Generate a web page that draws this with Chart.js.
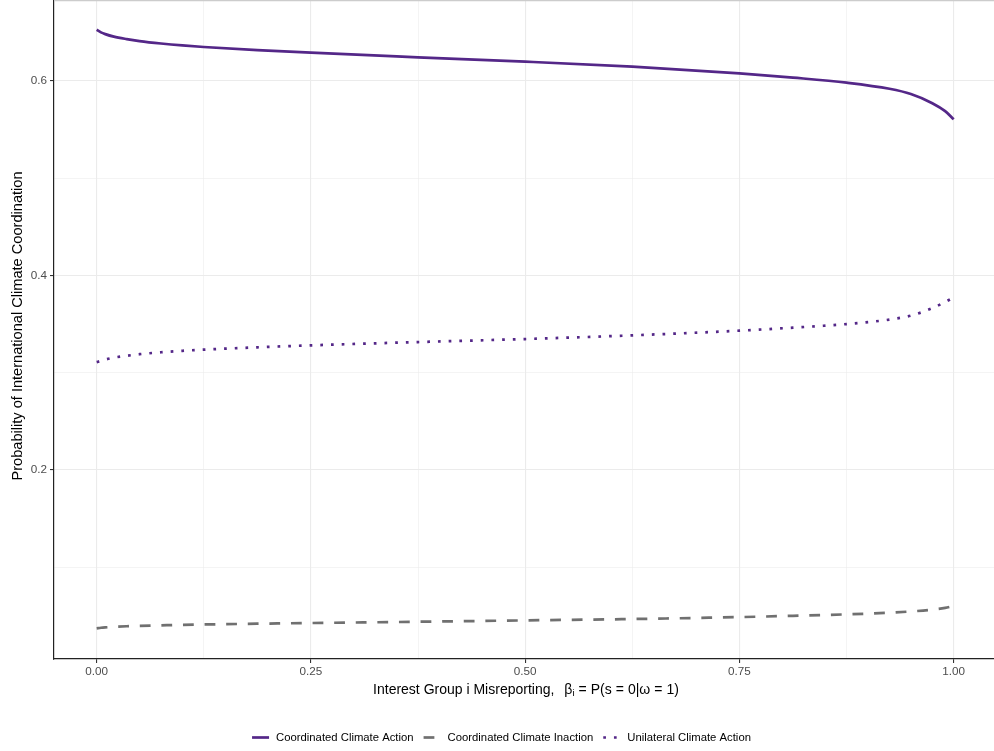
<!DOCTYPE html>
<html>
<head>
<meta charset="utf-8">
<script src="https://cdn.jsdelivr.net/npm/chart.js@4/dist/chart.umd.min.js"></script>
<style>
  html, body { margin: 0; padding: 0; background: #ffffff; overflow: hidden; }
  #wrap { width: 994px; height: 751px; position: relative; }
</style>
</head>
<body>
<div id="wrap"><canvas id="chart" width="994" height="751"></canvas></div>
<script>
// Misreporting probability (x) and the three outcome probabilities
const misreporting = [0, 0.005, 0.01, 0.02, 0.035, 0.05, 0.075, 0.1, 0.125, 0.1875, 0.25, 0.375, 0.5, 0.625, 0.75, 0.8125, 0.875, 0.925, 0.95, 0.975, 0.99, 1.0];
const coordinatedAction   = [0.6527, 0.6500, 0.6482, 0.6456, 0.6431, 0.6411, 0.6386, 0.6366, 0.6350, 0.6318, 0.6291, 0.6244, 0.6199, 0.6147, 0.6079, 0.6035, 0.5983, 0.5920, 0.5866, 0.5772, 0.5690, 0.5606];
const coordinatedInaction = [0.0372, 0.0378, 0.0382, 0.0388, 0.0394, 0.0398, 0.0403, 0.0408, 0.0412, 0.0420, 0.0427, 0.0440, 0.0454, 0.0468, 0.0488, 0.0501, 0.0516, 0.0533, 0.0546, 0.0564, 0.0582, 0.0602];
const unilateralAction    = [0.3110, 0.3122, 0.3136, 0.3156, 0.3175, 0.3191, 0.3211, 0.3226, 0.3238, 0.3262, 0.3282, 0.3316, 0.3347, 0.3385, 0.3433, 0.3464, 0.3501, 0.3547, 0.3588, 0.3664, 0.3728, 0.3775];

const seriesNames = ['Coordinated Climate Action', 'Coordinated Climate Inaction', 'Unilateral Climate Action'];

const xMajorTicks = [0, 0.25, 0.5, 0.75, 1];
const xTickLabels = ['0.00', '0.25', '0.50', '0.75', '1.00'];
const xMinorTicks = [0.125, 0.375, 0.625, 0.875];
const yMajorTicks = [0.2, 0.4, 0.6];
const yTickLabels = ['0.2', '0.4', '0.6'];
const yMinorTicks = [0.1, 0.3, 0.5];

const FONT = '"Liberation Sans", Arial, Helvetica, sans-serif';
const PURPLE = '#542788';
const GREY = '#707070';
const LW = 2.7;

const seriesStyles = [
  { color: PURPLE, dash: [] },
  { color: GREY, dash: [10.8, 10.8] },
  { color: PURPLE, dash: [2.7, 8] }
];

function points(ys) {
  return misreporting.map((x, i) => ({ x: x, y: ys[i] }));
}

const seriesValues = [coordinatedAction, coordinatedInaction, unilateralAction];
const datasets = seriesValues.map((vals, i) => ({
  label: seriesNames[i],
  data: points(vals),
  borderColor: seriesStyles[i].color,
  borderDash: seriesStyles[i].dash,
  borderWidth: LW,
  borderCapStyle: 'butt',
  pointRadius: 0,
  fill: false,
  cubicInterpolationMode: 'monotone'
}));

function mergedTicks(major, minor) {
  return major.concat(minor).sort((a, b) => a - b).map(v => ({ value: v }));
}

// Axis titles, the top panel edge and the bottom legend
const decorations = {
  id: 'decorations',
  afterDraw(chart) {
    const ctx = chart.ctx;
    const area = chart.chartArea;
    ctx.save();

    // light top edge of the panel
    ctx.strokeStyle = '#cccccc';
    ctx.lineWidth = 1.2;
    ctx.beginPath();
    ctx.moveTo(area.left, 0.6);
    ctx.lineTo(area.right, 0.6);
    ctx.stroke();

    // x axis title: plain text followed by a small formula
    const titleFont = '14px ' + FONT;
    const subFont = '9.8px ' + FONT;
    const eqGap = 4;
    const parts = [
      { t: 'Interest Group i Misreporting,', f: titleFont, dy: 0, after: 10 },
      { t: '\u03B2', f: titleFont, dy: 0, after: 0 },
      { t: 'i', f: subFont, dy: 3.5, after: eqGap },
      { t: '=', f: titleFont, dy: 0, after: eqGap },
      { t: 'P(s', f: titleFont, dy: 0, after: eqGap },
      { t: '=', f: titleFont, dy: 0, after: eqGap },
      { t: '0|\u03C9', f: titleFont, dy: 0, after: eqGap },
      { t: '=', f: titleFont, dy: 0, after: eqGap },
      { t: '1)', f: titleFont, dy: 0, after: 0 }
    ];
    let total = 0;
    parts.forEach(p => { ctx.font = p.f; p.w = ctx.measureText(p.t).width; total += p.w + p.after; });
    let x = 526 - total / 2;
    ctx.fillStyle = '#000000';
    ctx.textBaseline = 'middle';
    ctx.textAlign = 'left';
    parts.forEach(p => { ctx.font = p.f; ctx.fillText(p.t, x, 690 + p.dy); x += p.w + p.after; });

    // y axis title
    ctx.save();
    ctx.translate(18, 326);
    ctx.rotate(-Math.PI / 2);
    ctx.font = '14.6px ' + FONT;
    ctx.textAlign = 'center';
    ctx.textBaseline = 'middle';
    ctx.fillText('Probability of International Climate Coordination', 0, 0);
    ctx.restore();

    // legend
    const keyW = 17, keyGap = 7, itemGap = 10;
    ctx.font = '11.3px ' + FONT;
    const widths = seriesNames.map(n => ctx.measureText(n).width);
    let legendW = 0;
    widths.forEach((w, i) => { legendW += keyW + keyGap + w + (i < widths.length - 1 ? itemGap : 0); });
    let lx = 501.5 - legendW / 2;
    const ly = 737.5;
    seriesNames.forEach((name, i) => {
      ctx.strokeStyle = seriesStyles[i].color;
      ctx.lineWidth = LW;
      ctx.lineCap = 'butt';
      ctx.setLineDash(seriesStyles[i].dash);
      ctx.beginPath();
      ctx.moveTo(lx, ly);
      ctx.lineTo(lx + keyW, ly);
      ctx.stroke();
      ctx.setLineDash([]);
      ctx.fillStyle = '#000000';
      ctx.textAlign = 'left';
      ctx.textBaseline = 'middle';
      ctx.fillText(name, lx + keyW + keyGap, ly);
      lx += keyW + keyGap + widths[i] + itemGap;
    });

    ctx.restore();
  }
};

new Chart(document.getElementById('chart'), {
  type: 'line',
  data: { datasets: datasets },
  options: {
    responsive: false,
    animation: false,
    layout: { padding: 0 },
    plugins: {
      legend: { display: false },
      tooltip: { enabled: false },
      title: { display: false }
    },
    scales: {
      x: {
        type: 'linear',
        min: -0.0498,
        max: 1.047,
        afterBuildTicks: s => { s.ticks = mergedTicks(xMajorTicks, xMinorTicks); },
        afterFit: s => { s.height = 92; s.paddingLeft = 0; s.paddingRight = 0; s.paddingTop = 0; s.paddingBottom = 0; },
        ticks: {
          autoSkip: false,
          maxRotation: 0,
          padding: 2,
          color: '#4d4d4d',
          font: { family: FONT, size: 11.7 },
          callback: v => { const i = xMajorTicks.indexOf(v); return i >= 0 ? xTickLabels[i] : ''; }
        },
        grid: {
          color: '#ebebeb',
          lineWidth: c => (c.tick && xMajorTicks.indexOf(c.tick.value) >= 0) ? 1.1 : 0.55,
          tickColor: c => (c.tick && xMajorTicks.indexOf(c.tick.value) >= 0) ? '#333333' : 'rgba(0,0,0,0)',
          tickLength: 4,
          tickWidth: 1.1
        },
        border: { display: true, color: '#222222', width: 1.2 }
      },
      y: {
        type: 'linear',
        min: 0.0057,
        max: 0.6833,
        afterBuildTicks: s => { s.ticks = mergedTicks(yMajorTicks, yMinorTicks); },
        afterFit: s => { s.width = 54; s.paddingLeft = 0; s.paddingRight = 0; s.paddingTop = 0; s.paddingBottom = 0; },
        ticks: {
          autoSkip: false,
          padding: 3,
          color: '#4d4d4d',
          font: { family: FONT, size: 11.7 },
          callback: v => { const i = yMajorTicks.indexOf(v); return i >= 0 ? yTickLabels[i] : ''; }
        },
        grid: {
          color: '#ebebeb',
          lineWidth: c => (c.tick && yMajorTicks.indexOf(c.tick.value) >= 0) ? 1.1 : 0.55,
          tickColor: c => (c.tick && yMajorTicks.indexOf(c.tick.value) >= 0) ? '#333333' : 'rgba(0,0,0,0)',
          tickLength: 4,
          tickWidth: 1.1
        },
        border: { display: true, color: '#222222', width: 1.2 }
      }
    }
  },
  plugins: [decorations]
});
</script>
</body>
</html>
